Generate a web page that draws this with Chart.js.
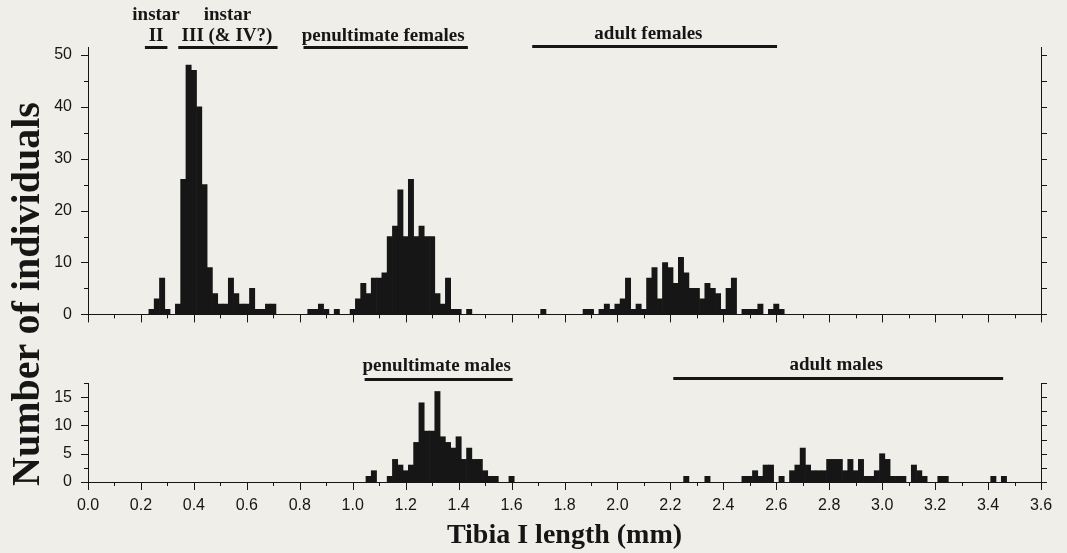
<!DOCTYPE html>
<html>
<head>
<meta charset="utf-8">
<script src="https://cdn.jsdelivr.net/npm/chart.js@4.4.1/dist/chart.umd.min.js"></script>
<style>
  body { margin: 0; background: #efeee8; }
  #wrap { position: relative; width: 1067px; height: 553px; overflow: hidden; }
  #upper { position: absolute; left: 0; top: 0; }
  #lower { position: absolute; left: 0; top: 340px; }
  #ytitle {
    position: absolute; left: -188px; top: 274px; width: 420px; height: 40px;
    line-height: 40px; text-align: center; transform: rotate(-90deg);
    font: bold 40px "Liberation Serif", "Times New Roman", serif; color: #161616;
    white-space: nowrap;
  }
</style>
</head>
<body>
<div id="wrap">
  <canvas id="upper" width="1067" height="340"></canvas>
  <canvas id="lower" width="1067" height="213"></canvas>
  <div id="ytitle">Number of individuals</div>
</div>
<script>
// upper panel: juveniles + females, bins of 0.02 mm (bin centres)
const upperMm = [0.24, 0.26, 0.28, 0.30,
  0.34, 0.36, 0.38, 0.40, 0.42, 0.44, 0.46, 0.48, 0.50, 0.52, 0.54, 0.56, 0.58, 0.60, 0.62, 0.64, 0.66, 0.68, 0.70,
  0.84, 0.86, 0.88, 0.90, 0.94,
  1.00, 1.02, 1.04, 1.06, 1.08, 1.10, 1.12, 1.14, 1.16, 1.18, 1.20, 1.22, 1.24, 1.26, 1.28, 1.30, 1.32, 1.34, 1.36, 1.38, 1.40, 1.44,
  1.72,
  1.88, 1.90, 1.94, 1.96, 1.98, 2.00, 2.02, 2.04, 2.06, 2.08, 2.10, 2.12, 2.14, 2.16, 2.18, 2.20, 2.22, 2.24, 2.26, 2.28,
  2.30, 2.32, 2.34, 2.36, 2.38, 2.40, 2.42, 2.44, 2.48, 2.50, 2.52, 2.54, 2.58, 2.60, 2.62];
const upperN = [1, 3, 7, 1,
  2, 26, 48, 47, 40, 25, 9, 4, 2, 2, 7, 4, 2, 2, 5, 1, 1, 2, 2,
  1, 1, 2, 1, 1,
  1, 3, 6, 4, 7, 7, 8, 15, 17, 24, 15, 26, 15, 17, 15, 15, 4, 2, 7, 1, 1, 1,
  1,
  1, 1, 1, 2, 1, 2, 3, 7, 1, 2, 1, 7, 9, 3, 10, 9, 6, 11, 8, 5,
  5, 3, 6, 5, 4, 1, 5, 7, 1, 1, 1, 2, 1, 2, 1];

// lower panel: males
const lowerMm = [1.06, 1.08, 1.14, 1.16, 1.18, 1.20, 1.22, 1.24, 1.26, 1.28, 1.30, 1.32, 1.34, 1.36, 1.38, 1.40,
  1.42, 1.44, 1.46, 1.48, 1.50, 1.52, 1.54, 1.60,
  2.26, 2.34, 2.48, 2.50, 2.52, 2.54, 2.56, 2.58, 2.62, 2.66, 2.68, 2.70, 2.72, 2.74, 2.76, 2.78,
  2.80, 2.82, 2.84, 2.86, 2.88, 2.90, 2.92, 2.94, 2.96, 2.98, 3.00, 3.02, 3.04, 3.06, 3.08,
  3.12, 3.14, 3.16, 3.22, 3.24, 3.42, 3.46];
const lowerN = [1, 2, 1, 4, 3, 2, 3, 7, 14, 9, 9, 16, 8, 7, 6, 8,
  4, 6, 4, 4, 2, 1, 1, 1,
  1, 1, 1, 1, 2, 1, 3, 3, 1, 2, 3, 6, 3, 2, 2, 2,
  4, 4, 4, 2, 4, 2, 4, 1, 1, 2, 5, 4, 1, 1, 1,
  3, 2, 1, 1, 1, 1, 1];

const xTickLabels = ['0.0', '0.2', '0.4', '0.6', '0.8', '1.0', '1.2', '1.4', '1.6', '1.8',
  '2.0', '2.2', '2.4', '2.6', '2.8', '3.0', '3.2', '3.4', '3.6'];
const upperTicks = ['0', '10', '20', '30', '40', '50'];
const lowerTicks = ['0', '5', '10', '15'];

const upperNotes = [
  { text: 'instar', at: 0.257, y: 20 },
  { text: 'instar', at: 0.527, y: 20 },
  { text: 'II', at: 0.257, y: 41, from: 0.215, to: 0.30, lineY: 46 },
  { text: 'III (& IV?)', at: 0.525, y: 41, from: 0.341, to: 0.716, lineY: 46 },
  { text: 'penultimate females', at: 1.115, y: 41, from: 0.814, to: 1.435, lineY: 46 },
  { text: 'adult females', at: 2.117, y: 39, from: 1.678, to: 2.603, lineY: 45 }
];
const lowerNotes = [
  { text: 'penultimate males', at: 1.317, y: 31, from: 1.045, to: 1.604, lineY: 38 },
  { text: 'adult males', at: 2.826, y: 30, from: 2.211, to: 3.457, lineY: 37 }
];

const ink = '#161616';
Chart.defaults.font.family = '"Liberation Sans", Arial, sans-serif';
Chart.defaults.color = ink;

// minor/major tick marks and the labelled range bars
const marks = {
  id: 'marks',
  afterDraw(chart, _args, o) {
    const { ctx, chartArea: a } = chart;
    const x = chart.scales.x, y = chart.scales.y;
    ctx.save();
    ctx.strokeStyle = ink;
    ctx.lineWidth = 1;
    ctx.beginPath();
    for (let i = 0; i <= 36; i++) {
      const px = Math.round(x.getPixelForValue(i / 10)) + 0.5;
      ctx.moveTo(px, a.bottom);
      ctx.lineTo(px, a.bottom + (i % 2 ? 4 : 8));
    }
    for (let k = 0; k * o.minor <= o.max + 1e-9; k++) {
      const py = Math.round(y.getPixelForValue(k * o.minor)) + 0.5;
      const major = k % o.every === 0;
      ctx.moveTo(a.left - (major ? 7 : 4), py);
      ctx.lineTo(a.left, py);
      ctx.moveTo(a.right, py);
      ctx.lineTo(a.right + 6, py);
    }
    ctx.stroke();

    ctx.fillStyle = ink;
    ctx.font = 'bold 19px "Liberation Serif", "Times New Roman", serif';
    ctx.textAlign = 'center';
    o.notes.forEach(n => {
      ctx.fillText(n.text, x.getPixelForValue(n.at), n.y);
      if (n.from !== undefined) {
        const x0 = x.getPixelForValue(n.from), x1 = x.getPixelForValue(n.to);
        ctx.fillRect(x0, n.lineY, x1 - x0, 3);
      }
    });
    ctx.restore();
  }
};

function makeChart(id, mm, counts, yMax, yStep, yLabels, opts) {
  const points = mm.map((v, i) => ({ x: v, y: counts[i] }));
  return new Chart(document.getElementById(id), {
    type: 'bar',
    data: {
      datasets: [{
        data: points,
        backgroundColor: ink,
        borderWidth: 0,
        barPercentage: 1,
        categoryPercentage: 1
      }]
    },
    options: {
      responsive: false,
      animation: false,
      layout: { padding: { top: opts.padTop, left: 0, right: 0, bottom: 0 } },
      plugins: {
        legend: { display: false },
        tooltip: { enabled: false },
        marks: { minor: opts.minor, every: opts.every, max: yMax, notes: opts.notes }
      },
      scales: {
        x: {
          type: 'linear', min: 0, max: 3.6, offset: false,
          grid: { display: false, drawTicks: false },
          border: { display: true, color: ink, width: 1 },
          ticks: {
            display: opts.showX, stepSize: 0.2, padding: 14, maxRotation: 0, autoSkip: false,
            font: { size: 16 }, color: ink,
            callback: (v, i) => xTickLabels[i]
          },
          title: {
            display: opts.showX, text: 'Tibia I length (mm)',
            font: { family: '"Liberation Serif", "Times New Roman", serif', size: 28, weight: 'bold' },
            color: ink, padding: { top: 0, bottom: 0 }
          },
          afterFit: s => { s.height = opts.xHeight; }
        },
        y: {
          min: 0, max: yMax,
          grid: { display: false, drawTicks: false },
          border: { display: true, color: ink, width: 1 },
          ticks: {
            stepSize: yStep, includeBounds: false, padding: 16,
            font: { size: 16 }, color: ink,
            callback: (v, i) => yLabels[i]
          },
          afterFit: s => { s.width = 88; }
        },
        yr: {
          position: 'right', min: 0, max: yMax,
          grid: { display: false, drawTicks: false },
          border: { display: true, color: ink, width: 1 },
          ticks: { display: false },
          afterFit: s => { s.width = 26; }
        }
      }
    },
    plugins: [marks]
  });
}

makeChart('upper', upperMm, upperN, 51.5, 10, upperTicks,
  { padTop: 47, xHeight: 23, showX: false, minor: 5, every: 2, notes: upperNotes });
makeChart('lower', lowerMm, lowerN, 17.5, 5, lowerTicks,
  { padTop: 43, xHeight: 71, showX: true, minor: 2.5, every: 2, notes: lowerNotes });
</script>
</body>
</html>
